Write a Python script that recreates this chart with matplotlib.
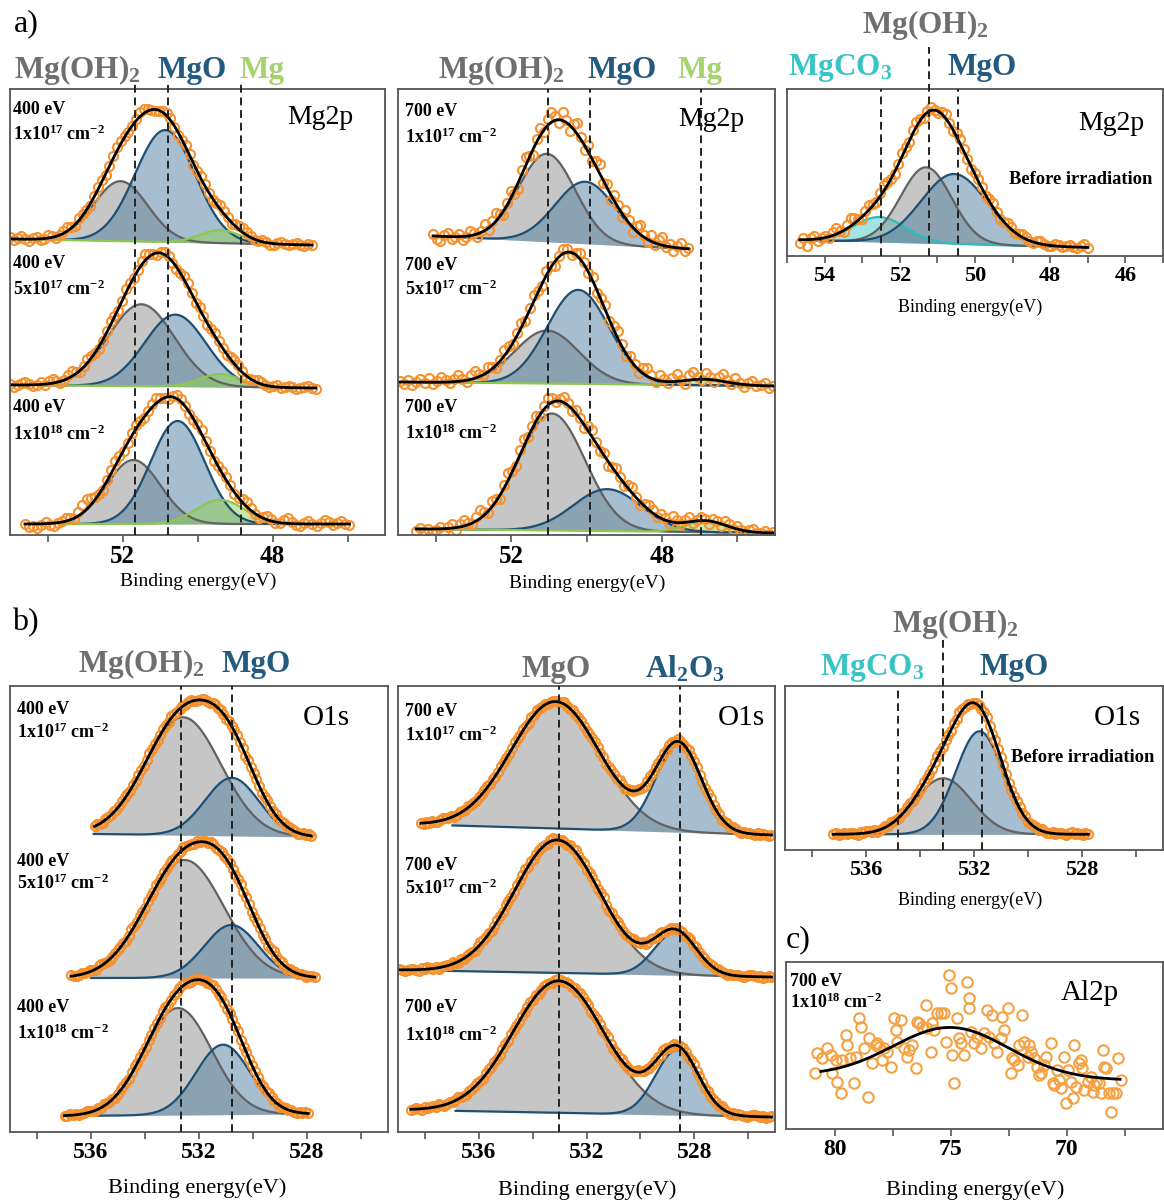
import numpy as np
import matplotlib
matplotlib.use('Agg')
import matplotlib.pyplot as plt
from matplotlib.ticker import MultipleLocator

plt.rcParams['font.family'] = ['Liberation Serif', 'DejaVu Serif']
plt.rcParams['mathtext.default'] = 'regular'

W, H = 1164, 1203
ORANGE = '#f5922f'
GREY_T = '#6f6f6f'
BLUE_T = '#235a80'
GREEN_T = '#a4d46c'
CYAN_T = '#36c4c4'

# fill colour, edge colour of each fitted component
STYLE = {
    'oh':  ('#8f8f8f', '#626262'),
    'mgo': ('#4f7fa0', '#1e4f74'),
    'mg':  ('#8fd050', '#8cc850'),
    'co3': ('#4ccaca', '#2cbcbc'),
}

# ---------------- data ----------------
# peaks are (centre eV, height, sigma eV); intensities in arbitrary units incl. stacking offset
# a) Mg2p 400 eV, fluence 1e17 / 5e17 / 1e18 cm-2 (top to bottom)
mg400_kinds = ['oh', 'mgo', 'mg']
mg400_span = [(55.0, 46.95), (55.0, 46.85), (54.6, 45.95)]
mg400_fitspan = [(54.4, 48.2), (54.2, 47.9), (53.65, 47.6)]
mg400_bg = [(296, 290), (150, 147), (11, 11)]
mg400_peaks = [
    [(52.05, 60, 0.72), (50.86, 112, 0.80), (49.39, 13, 0.55)],
    [(51.50, 82, 0.88), (50.59, 72, 0.82), (49.39, 13, 0.55)],
    [(51.71, 64, 0.72), (50.53, 103, 0.72), (49.39, 24, 0.65)],
]
mg400_resid = [
    "2 -1 1 3 0 -2 1 2 -1 0 3 1 -2 0 2 4 1 -1 3 2 0 -2 1 3 2 -1 0 2 4 3 1 -1 0 2 5 4 2 0 -2 -1 "
    "1 3 2 -1 -3 0 2 1 -2 0 3 2 -1 -2 1 4 3 1 -1 2 4 5 3 1 -1 0 2 1 -2 -1 1 2 0 -1 1 2 0 -1 1 0",
    "1 -2 0 2 3 1 -1 0 2 -1 3 4 1 -2 0 3 5 2 -1 1 4 2 0 -3 -1 2 4 1 -2 0 3 2 -1 1 4 6 3 0 -2 1 "
    "3 2 -1 -2 0 3 4 1 -1 2 0 -2 1 3 2 0 -1 2 4 3 1 -2 -1 1 3 2 0 -1 1 2 -1 0 2 1 -1 0 1 2 0 -1",
    "0 -3 -2 -4 -1 2 -2 -3 0 1 3 2 -1 4 8 10 7 3 0 -2 1 3 5 2 -1 0 3 4 2 -1 1 3 5 2 0 -2 1 4 3 0 "
    "-2 -1 2 4 1 -1 -3 0 2 3 1 -2 0 3 5 2 0 -2 1 4 2 -1 0 3 5 2 -1 -2 1 3 0 -2 1 4 2 -1 1 3 0 -1",
]
mg400_lines = [51.68, 50.80, 48.83]

# a) Mg2p 700 eV
mg700_kinds = ['oh', 'mgo', 'mg']
mg700_span = [(54.07, 47.3), (54.96, 45.05), (54.52, 45.06)]
mg700_fitspan = [(54.03, 47.27), (54.6, 45.1), (54.47, 45.5)]
mg700_bg = [(299, 286), (153, 149), (6, 2)]
mg700_peaks = [
    [(51.05, 88, 0.75), (50.03, 62, 0.80), (46.9, 0, 0.5)],
    [(51.05, 53, 0.85), (50.22, 94, 0.82), (46.9, 6, 0.6)],
    [(50.92, 117, 0.88), (49.45, 42, 0.90), (46.83, 11, 0.55)],
]
mg700_resid = [
    "2 -3 -5 1 4 -2 0 3 -4 -1 5 2 -3 1 6 -2 4 8 3 -4 2 7 -3 -6 4 9 2 -5 3 7 -2 6 10 4 -3 8 2 -6 5 "
    "11 3 -4 7 -2 5 9 -3 4 -6 6 2 -4 8 3 -5 5 9 2 -3 6 -2 4 8 -1 3 -4 2 5 -2 1",
    "1 -2 2 -3 0 3 -1 4 -2 1 5 2 -1 3 6 2 -2 4 7 3 0 5 2 -3 1 6 4 -1 3 5 -2 2 6 1 -3 4 2 -4 1 5 "
    "3 -2 2 6 3 -1 4 -3 2 5 -1 3 7 2 -2 4 1 -3 5 8 3 -2 6 2 -1 4 7 1 -3 5 8 2 -1 6 3 -2 4 7 2 -1 "
    "5 1 -3 2 4 -1 1 3 -2 0",
    "-2 1 -3 0 -4 -1 2 -3 1 4 -2 3 6 2 -1 4 8 3 -2 5 2 -4 3 7 1 -3 4 6 -1 2 5 -2 3 7 4 -1 2 6 3 "
    "-2 4 1 -3 5 7 2 -1 3 -4 1 5 2 -2 4 6 1 -3 2 5 3 -1 4 2 -2 6 3 -1 2 5 -2 1 4 2 -3 3 1 -2 4 2 "
    "-1 3 0 -2 1 3 -1 0 2 -1 1",
]
mg700_lines = [51.03, 49.92, 46.96]

# a) Mg2p before irradiation
mg0_kinds = ['co3', 'oh', 'mgo']
mg0_span = (54.66, 47.0)
mg0_fitspan = (54.4, 47.8)
mg0_bg = (16, 8.5)
mg0_peaks = [(52.54, 25, 0.70), (51.30, 76, 0.68), (50.55, 70, 0.88)]
mg0_resid = ("-3 2 -6 1 3 -2 0 2 -1 4 6 2 -1 3 8 5 1 -2 3 5 2 -1 4 6 3 0 -2 1 4 2 -1 3 5 2 -2 1 3 0 "
             "-2 2 4 1 -1 3 5 2 0 -2 1 3 2 -1 2 4 1 -2 0 3 2 -1 1 3 2 0 -1 2 3 1 -1 0 2 1 -1 1 2 0 -1 1 3 -1")
mg0_lines = [52.50, 51.23, 50.46]

# b) O1s 400 eV
o400_kinds = ['oh', 'mgo']
o400_span = [(535.87, 527.84), (536.73, 527.72), (536.98, 527.96)]
o400_fitspan = [(535.9, 528.5), (536.0, 528.33), (536.0, 528.84)]
o400_bg = [(298, 295), (154, 154), (16, 18)]
o400_peaks = [
    [(532.59, 118, 1.40), (530.78, 58, 1.00)],
    [(532.53, 118, 1.45), (530.80, 53, 1.00)],
    [(532.78, 107, 1.25), (531.11, 70, 1.00)],
]
o400_resid = [
    "0 1 0 -1 1 1 0 1 -1 0 1 2 0 -1 1 0 1 1 -1 0 2 1 0 -1 0 1 1 0 2 1 -1 0 1 0 1 2 0 -1 0 1 1 0 "
    "-1 1 2 0 1 0 -1 1 0 1 2 1 0 -1 1 0 1 1 0 -1 0 2 1 0 1 -1 0 1 0 1 1 0 -1 0 1 0 1 0",
    "1 0 -1 0 1 0 1 1 0 -1 1 2 1 0 -1 0 1 1 0 1 -1 0 2 1 0 1 0 -1 1 1 0 2 0 -1 1 0 1 1 -1 0 1 2 1 "
    "0 0 -1 1 0 1 1 0 2 1 -1 0 1 0 1 1 0 -1 1 2 0 1 0 -1 0 1 1 0 1 -1 0 2 1 0 1 0 -1 1 0 1 0 1 0 -1 0 1 0",
    "0 -1 1 0 1 -1 0 1 2 1 0 -1 1 0 2 1 0 1 -1 0 1 1 0 -1 1 2 0 1 0 -1 1 0 1 1 0 2 1 -1 0 1 0 1 2 1 "
    "0 -1 0 1 1 0 1 -1 0 2 1 0 1 0 -1 1 1 0 2 0 -1 1 0 1 1 0 -1 1 0 2 1 0 1 -1 0 1 0 1 0 -1 1 0 1 0",
]
o400_lines = [532.68, 530.79]

# b) O1s 700 eV (grey = MgO, blue = Al2O3)
o700_kinds = ['oh', 'mgo']
o700_span = [(538.15, 525.13), (538.95, 525.13), (538.52, 525.13)]
o700_fitspan = [(536.98, 526.48), (537.35, 526.6), (536.86, 526.6)]
o700_bg = [(307.5, 297), (162, 155), (22, 15)]
o700_peaks = [
    [(533.15, 127, 1.65), (528.58, 88, 0.85)],
    [(533.09, 133, 1.60), (528.70, 43, 0.78)],
    [(533.03, 132, 1.70), (528.64, 65, 0.80)],
]
o700_resid = [
    "0 -1 1 0 1 0 -1 1 2 1 0 1 -1 0 1 1 0 2 1 0 -1 1 0 1 2 0 1 -1 0 1 1 0 -1 1 2 1 0 1 0 -1 1 0 2 1 "
    "0 1 -1 0 1 1 0 1 2 0 -1 1 0 1 1 0 -1 0 1 2 1 0 1 -1 0 1 1 0 2 1 -1 0 1 0 1 1 0 -1 1 2 0 1 0 -1 "
    "1 0 1 1 0 2 1 0 -1 1 0 1 1 0 -1 0 1 2 1 0 1 -1 0 1 0 1 1 0 -1 1 0 1 0 -1 1 0 1 0 -1 0",
    "1 0 -1 0 1 1 0 -1 1 0 2 1 0 1 -1 0 1 1 0 2 0 -1 1 0 1 1 0 -1 1 2 1 0 1 -1 0 1 1 0 2 1 0 -1 1 0 "
    "1 2 0 1 -1 0 1 1 0 -1 1 2 1 0 1 0 -1 1 0 2 1 0 1 -1 0 1 1 0 1 2 0 -1 1 0 1 1 0 -1 0 1 2 1 0 1 -1 "
    "0 1 1 0 2 1 -1 0 1 0 1 1 0 -1 1 2 0 1 0 -1 1 0 1 1 0 2 1 0 -1 1 0 1 1 0 -1 0 1 2 1 0 1 -1 0 1 0",
    "-1 0 1 0 -1 1 0 1 1 0 2 1 -1 0 1 0 1 2 1 0 -1 1 0 1 1 0 -1 1 2 0 1 0 -1 1 1 0 2 1 0 -1 1 0 1 2 "
    "0 1 -1 0 1 1 0 -1 1 2 1 0 1 0 -1 1 0 2 1 0 1 -1 0 1 1 0 1 2 0 -1 1 0 1 1 0 -1 0 1 2 1 0 1 -1 0 1 "
    "1 0 2 1 -1 0 1 0 1 1 0 -1 1 2 0 1 0 -1 1 0 1 1 0 2 1 0 -1 1 0 1 1 0 -1 0 1 2 1 0 1 -1 0 1",
]
o700_lines = [533.03, 528.53]

# b) O1s before irradiation
o0_kinds = ['oh', 'mgo']
o0_span = (537.21, 527.77)
o0_fitspan = (535.7, 529.4)
o0_bg = (15.7, 15.7)
o0_peaks = [(533.14, 56, 1.05), (531.80, 103, 0.88)]
o0_resid = ("0 1 -1 0 1 0 1 1 0 -1 1 0 2 1 0 1 -1 0 1 1 0 2 1 0 -1 1 0 1 2 0 1 -1 0 1 1 0 -1 1 2 1 0 1 "
            "0 -1 1 0 2 1 0 1 -1 0 1 1 0 1 2 0 -1 1 0 1 1 0 -1 0 1 2 1 0 1 -1 0 1 1 0 2 1 -1 0 1 0 1 1 0 "
            "-1 1 2 0 1 0 -1 1 0")
o0_lines = [534.83, 533.14, 531.71]

# c) Al2p 700 eV 1e18 cm-2
al_energy = [80.83, 80.76, 80.54, 80.32, 80.18, 80.11, 79.96, 79.89, 79.75, 79.68,
             79.53, 79.46, 79.32, 79.17, 79.10, 78.96, 78.88, 78.74, 78.57, 78.53,
             78.38, 78.24, 78.17, 78.09, 77.95, 77.88, 77.73, 77.59, 77.45, 77.37,
             77.30, 77.16, 77.01, 76.87, 76.80, 76.65, 76.51, 76.44, 76.37, 76.22,
             76.08, 76.01, 75.86, 75.79, 75.72, 75.58, 75.43, 75.29, 75.22, 75.07,
             75.00, 74.93, 74.86, 74.71, 74.64, 74.57, 74.42, 74.28, 74.21, 74.21,
             74.14, 73.99, 73.85, 73.71, 73.56, 73.42, 73.35, 73.20, 73.13, 72.99,
             72.84, 72.77, 72.70, 72.55, 72.41, 72.34, 72.27, 72.12, 72.05, 71.91,
             71.83, 71.69, 71.62, 71.55, 71.40, 71.26, 71.19, 71.12, 70.97, 70.90,
             70.68, 70.61, 70.54, 70.40, 70.32, 70.25, 70.11, 70.04, 69.96, 69.82,
             69.75, 69.68, 69.60, 69.46, 69.39, 69.32, 69.24, 69.10, 68.96, 68.88,
             68.81, 68.74, 68.60, 68.53, 68.45, 68.38, 68.31, 68.17, 68.09, 68.02,
             67.88, 67.81, 67.66]
al_counts = [56, 76, 71, 81, 74, 56, 69, 47, 36, 69,
             94, 84, 71, 46, 72, 111, 102, 81, 32, 91,
             66, 84, 86, 82, 69, 81, 77, 62, 111, 99,
             87, 109, 81, 72, 79, 84, 61, 107, 106, 102,
             124, 101, 77, 106, 99, 116, 116, 116, 87, 154,
             141, 74, 46, 111, 91, 86, 74, 147, 131, 121,
             97, 86, 92, 81, 96, 119, 92, 114, 86, 77,
             91, 112, 99, 121, 56, 71, 69, 64, 84, 114,
             87, 72, 84, 77, 71, 62, 54, 56, 64, 72,
             86, 46, 44, 59, 49, 41, 72, 26, 59, 47,
             31, 84, 42, 66, 69, 61, 39, 47, 52, 37,
             44, 47, 46, 36, 79, 62, 61, 36, 17, 36,
             36, 71, 49]
al_span = (80.6, 67.7)
al_bg = (53.5, 49.0)
al_peak = (75.0, 50, 2.5)


# ---------------- drawing ----------------
fig = plt.figure(figsize=(W / 100, H / 100), dpi=100)


def ftext(x, y, s, **kw):
    return fig.text(x / W, 1 - y / H, s, **kw)


def gauss(e, c, h, s):
    return h * np.exp(-(e - c) ** 2 / (2 * s ** 2))


def make_axes(x0, y0, x1, y1, xlim, ticks, minor, fs):
    ax = fig.add_axes([x0 / W, 1 - y1 / H, (x1 - x0) / W, (y1 - y0) / H])
    ax.set_xlim(*xlim)
    ax.set_ylim(0, y1 - y0)
    ax.set_yticks([])
    ax.set_xticks(ticks)
    ax.set_xticklabels([str(t) for t in ticks], fontsize=fs, fontweight='bold')
    ax.xaxis.set_minor_locator(MultipleLocator(minor))
    ax.tick_params(axis='x', which='both', direction='out', length=5, width=1.2,
                   color='#555555', pad=2)
    for sp in ax.spines.values():
        sp.set_color('#555555')
        sp.set_linewidth(1.3)
    return ax


def draw_spectrum(ax, span, fitspan, bg, peaks, kinds, resid):
    e0, e1 = span

    def base(e):
        return bg[0] + (bg[1] - bg[0]) * (e - e0) / (e1 - e0)

    def fit(e):
        return base(e) + sum(gauss(e, *p) for p in peaks)

    xc = np.linspace(fitspan[0], fitspan[1], 300)
    for p, k in zip(peaks, kinds):
        if p[1] <= 0:
            continue
        fc, ec = STYLE[k]
        yc = base(xc) + gauss(xc, *p)
        ax.fill_between(xc, base(xc), yc, color=fc, alpha=0.5, lw=0)
        ax.plot(xc, yc, color=ec, lw=1.6)
    r = np.array(resid.split(), float)
    xd = np.linspace(e0, e1, len(r))
    ax.plot(xd, fit(xd) + r, 'o', ms=6.5, mfc='none', mec=ORANGE, mew=1.5)
    xf = np.linspace(e0, e1, 400)
    ax.plot(xf, fit(xf), color='k', lw=2)


def dashed(ax, xs, top=1.0):
    for x in xs:
        ax.axvline(x, ymin=0, ymax=top, color='#222222', lw=1.4,
                   ls=(0, (4, 2.5)), clip_on=False, zorder=5)


HB = dict(fontsize=22.5, fontweight='bold', ha='left', va='baseline')
TAG = dict(fontsize=13, fontweight='bold', ha='left', va='center')
XL = dict(ha='center', va='center')

# panel letters
ftext(14, 31, 'a)', fontsize=23, ha='left', va='baseline')
ftext(12, 630, 'b)', fontsize=23, ha='left', va='baseline')
ftext(786, 947, 'c)', fontsize=23, ha='left', va='baseline')

# --- a) Mg2p 400 eV
ax = make_axes(10, 89, 385, 535, (55, 45), [52, 48], 2, 18)
for i in range(3):
    draw_spectrum(ax, mg400_span[i], mg400_fitspan[i], mg400_bg[i], mg400_peaks[i],
                  mg400_kinds, mg400_resid[i])
dashed(ax, mg400_lines, 1.016)
ftext(14, 78, 'Mg(OH)$_2$', color=GREY_T, **HB)
ftext(157, 78, 'MgO', color=BLUE_T, **HB)
ftext(240, 78, 'Mg', color=GREEN_T, **HB)
ftext(320, 118, 'Mg2p', fontsize=20, ha='center', va='center')
for (y1, y2, t) in [(110, 134, '1x10$^{17}$ cm$^{-2}$'), (263, 289, '5x10$^{17}$ cm$^{-2}$'),
                    (408, 434, '1x10$^{18}$ cm$^{-2}$')]:
    ftext(13, y1, '400 eV', **TAG)
    ftext(13, y2, t, **TAG)
ftext(198, 581, 'Binding energy(eV)', fontsize=14, **XL)

# --- a) Mg2p 700 eV
ax = make_axes(398, 89, 775, 535, (55, 45), [52, 48], 2, 18)
for i in range(3):
    draw_spectrum(ax, mg700_span[i], mg700_fitspan[i], mg700_bg[i], mg700_peaks[i],
                  mg700_kinds, mg700_resid[i])
dashed(ax, mg700_lines)
ftext(438, 78, 'Mg(OH)$_2$', color=GREY_T, **HB)
ftext(587, 78, 'MgO', color=BLUE_T, **HB)
ftext(677, 78, 'Mg', color=GREEN_T, **HB)
ftext(711, 120, 'Mg2p', fontsize=20, ha='center', va='center')
for (y1, y2, t) in [(112, 137, '1x10$^{17}$ cm$^{-2}$'), (265, 289, '5x10$^{17}$ cm$^{-2}$'),
                    (407, 433, '1x10$^{18}$ cm$^{-2}$')]:
    ftext(405, y1, '700 eV', **TAG)
    ftext(405, y2, t, **TAG)
ftext(587, 583, 'Binding energy(eV)', fontsize=14, **XL)

# --- a) Mg2p before irradiation
ax = make_axes(787, 89, 1163, 256, (55, 45), [54, 52, 50, 48, 46], 1, 16)
draw_spectrum(ax, mg0_span, mg0_fitspan, mg0_bg, mg0_peaks, mg0_kinds, mg0_resid)
dashed(ax, [mg0_lines[0], mg0_lines[2]])
dashed(ax, [mg0_lines[1]], 1.25)
ftext(862, 33, 'Mg(OH)$_2$', color=GREY_T, **HB)
ftext(788, 75, 'MgCO$_3$', color=CYAN_T, **HB)
ftext(947, 75, 'MgO', color=BLUE_T, **HB)
ftext(1111, 124, 'Mg2p', fontsize=20, ha='center', va='center')
ftext(1009, 180, 'Before irradiation', fontsize=13.3, fontweight='bold', ha='left', va='center')
ftext(970, 307, 'Binding energy(eV)', fontsize=13, **XL)

# --- b) O1s 400 eV
ax = make_axes(10, 686, 388, 1132, (539, 525), [536, 532, 528], 2, 17)
for i in range(3):
    draw_spectrum(ax, o400_span[i], o400_fitspan[i], o400_bg[i], o400_peaks[i],
                  o400_kinds, o400_resid[i])
dashed(ax, o400_lines)
ftext(78, 672, 'Mg(OH)$_2$', color=GREY_T, **HB)
ftext(222, 672, 'MgO', color=BLUE_T, **HB)
ftext(326, 718, 'O1s', fontsize=21, ha='center', va='center')
for (y1, y2, t) in [(709, 732, '1x10$^{17}$ cm$^{-2}$'), (861, 883, '5x10$^{17}$ cm$^{-2}$'),
                    (1008, 1033, '1x10$^{18}$ cm$^{-2}$')]:
    ftext(17, y1, '400 eV', **TAG)
    ftext(17, y2, t, **TAG)
ftext(197, 1188, 'Binding energy(eV)', fontsize=16, **XL)

# --- b) O1s 700 eV
ax = make_axes(398, 686, 775, 1132, (539, 525), [536, 532, 528], 2, 17)
for i in range(3):
    draw_spectrum(ax, o700_span[i], o700_fitspan[i], o700_bg[i], o700_peaks[i],
                  o700_kinds, o700_resid[i])
dashed(ax, o700_lines)
ftext(522, 677, 'MgO', color=GREY_T, **HB)
ftext(645, 677, 'Al$_2$O$_3$', color=BLUE_T, **HB)
ftext(741, 718, 'O1s', fontsize=21, ha='center', va='center')
for (y1, y2, t) in [(711, 735, '1x10$^{17}$ cm$^{-2}$'), (866, 888, '5x10$^{17}$ cm$^{-2}$'),
                    (1008, 1035, '1x10$^{18}$ cm$^{-2}$')]:
    ftext(405, y1, '700 eV', **TAG)
    ftext(405, y2, t, **TAG)
ftext(587, 1190, 'Binding energy(eV)', fontsize=16, **XL)

# --- b) O1s before irradiation
ax = make_axes(785, 686, 1163, 850, (539, 525), [536, 532, 528], 2, 16)
draw_spectrum(ax, o0_span, o0_fitspan, o0_bg, o0_peaks, o0_kinds, o0_resid)
dashed(ax, [o0_lines[0], o0_lines[2]])
dashed(ax, [o0_lines[1]], 1.29)
ftext(892, 632, 'Mg(OH)$_2$', color=GREY_T, **HB)
ftext(820, 675, 'MgCO$_3$', color=CYAN_T, **HB)
ftext(980, 675, 'MgO', color=BLUE_T, **HB)
ftext(1117, 718, 'O1s', fontsize=21, ha='center', va='center')
ftext(1011, 757, 'Before irradiation', fontsize=13.3, fontweight='bold', ha='left', va='center')
ftext(970, 900, 'Binding energy(eV)', fontsize=13, **XL)

# --- c) Al2p
ax = make_axes(786, 962, 1163, 1129, (82.1, 65.85), [80, 75, 70], 2.5, 17)
ax.plot(al_energy, al_counts, 'o', ms=7.5, mfc='none', mec='#f4a243', mew=1.5)
xf = np.linspace(al_span[0], al_span[1], 300)
al_base = al_bg[0] + (al_bg[1] - al_bg[0]) * (xf - al_span[0]) / (al_span[1] - al_span[0])
ax.plot(xf, al_base + gauss(xf, *al_peak), color='k', lw=2)
ftext(1090, 993, 'Al2p', fontsize=21, ha='center', va='center')
ftext(790, 982, '700 eV', **TAG)
ftext(790, 1002, '1x10$^{18}$ cm$^{-2}$', **TAG)
ftext(975, 1190, 'Binding energy(eV)', fontsize=16, **XL)

fig.savefig('out.png', dpi=100)
